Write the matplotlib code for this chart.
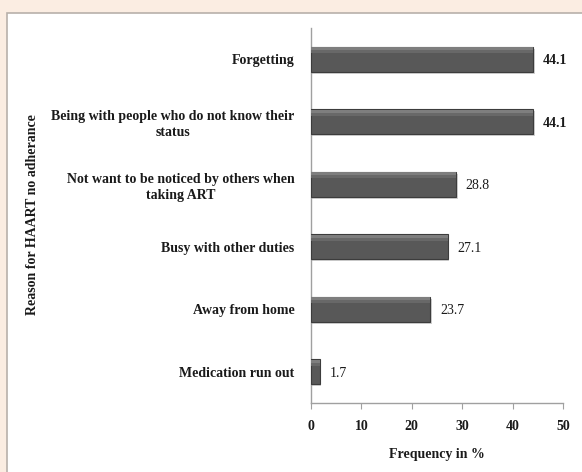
import matplotlib
matplotlib.use("Agg")
import matplotlib.pyplot as plt
from matplotlib.patches import Rectangle

categories = [
    "Forgetting",
    "Being with people who do not know their\nstatus",
    "Not want to be noticed by others when\ntaking ART",
    "Busy with other duties",
    "Away from home",
    "Medication run out",
]
values = [44.1, 44.1, 28.8, 27.1, 23.7, 1.7]
value_labels = ["44.1", "44.1", "28.8", "27.1", "23.7", "1.7"]
x_ticks = [0, 10, 20, 30, 40, 50]

FONT = ["Liberation Serif", "DejaVu Serif"]
FS = 10

fig = plt.figure(figsize=(5.82, 4.72), dpi=100)
fig.patch.set_facecolor("#FBEDE2")
# white panel
panel = Rectangle((7 / 582, -0.01), 1, 1 - 13 / 472 + 0.01, transform=fig.transFigure,
                  facecolor="white", edgecolor="#b8b0aa", linewidth=1.2, zorder=-10)
fig.patches.append(panel)

ax = fig.add_axes([311 / 582, 1 - 403 / 472, (563 - 311) / 582, (403 - 28) / 472])
ax.set_facecolor("none")
ax.set_zorder(5)

ypos = list(range(len(categories)))[::-1]
# soft shadow
ax.barh([y - 0.03 for y in ypos], [v + 0.3 for v in values], height=0.4,
        color="#d0d0d0", linewidth=0, zorder=2)
bars = ax.barh(ypos, values, height=0.4, color="#585858", edgecolor="#3c3c3c",
               linewidth=0.8, zorder=3)
# bevel highlight along top of bars
ax.barh([y + 0.165 for y in ypos], values, height=0.05, color="#7e7e7e",
        linewidth=0, zorder=4)
ax.barh([y + 0.12 for y in ypos], values, height=0.05, color="#686868",
        linewidth=0, zorder=4)

for y, v, lab, i in zip(ypos, values, value_labels, range(len(values))):
    ax.annotate(lab, (v, y), xytext=(7, -1), textcoords="offset points",
                ha="left", va="center", fontsize=FS, family=FONT,
                fontweight="bold" if i < 2 else "normal", color="#1a1a1a")

ax.set_xlim(0, 50)
ax.set_ylim(-0.5, len(categories) - 0.5)
ax.set_xticks(x_ticks)
ax.set_xticklabels([str(t) for t in x_ticks], family=FONT, fontsize=FS,
                   fontweight="bold", color="#1a1a1a")
ax.set_yticks(ypos)
ax.set_yticklabels(categories, family=FONT, fontsize=FS, fontweight="bold",
                   color="#1a1a1a", multialignment="center", linespacing=1.3)
ax.tick_params(axis="y", length=0, pad=12)
ax.tick_params(axis="x", length=4, color="#a0a0a0", pad=8, direction="out")

for s in ["top", "right"]:
    ax.spines[s].set_visible(False)
for s in ["left", "bottom"]:
    ax.spines[s].set_color("#a0a0a0")
    ax.spines[s].set_linewidth(1.0)

ax.set_xlabel("Frequency in %", family=FONT, fontsize=FS, fontweight="bold",
              labelpad=11, color="#1a1a1a")
fig.text(33 / 582, 1 - 215 / 472, "Reason for HAART no adherance", rotation=90,
         ha="center", va="center", family=FONT, fontsize=FS, fontweight="bold",
         color="#1a1a1a")

fig.savefig("out.png", dpi=100, facecolor=fig.get_facecolor())
